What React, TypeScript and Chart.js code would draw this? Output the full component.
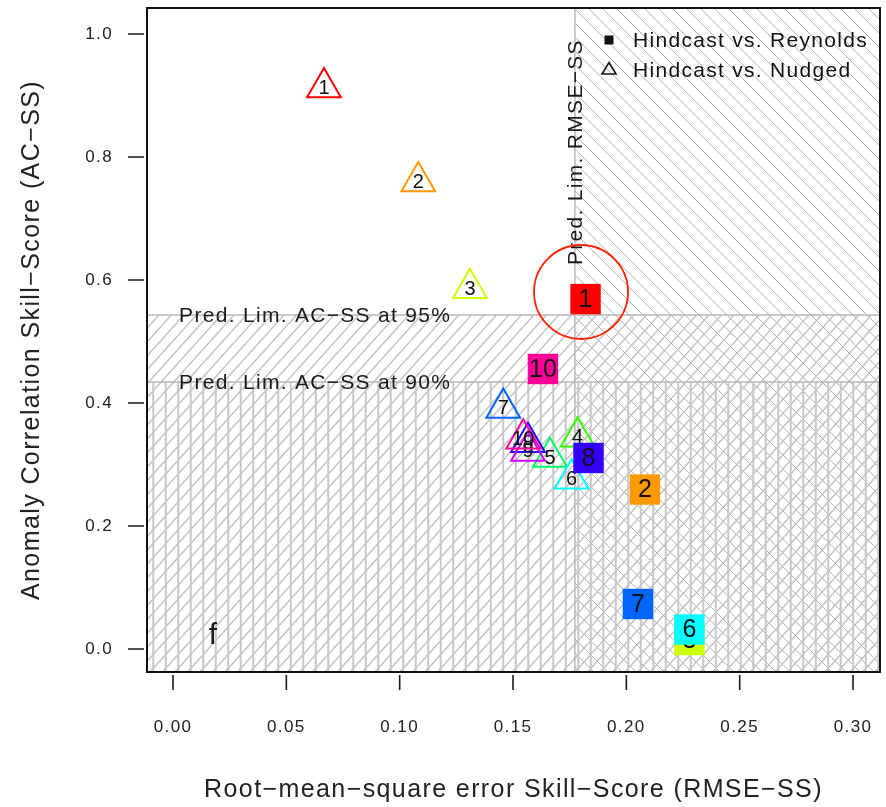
import React, { useEffect, useRef } from 'react';
import { Chart, registerables } from 'chart.js';

Chart.register(...registerables);

// R rainbow(10) palette, one colour per experiment number
const memberColors = ['#FF0000', '#FF9900', '#CCFF00', '#33FF00', '#00FF66', '#00FFFF', '#0066FF', '#3300FF', '#CC00FF', '#FF0099'];

// Hindcast vs. Reynolds (filled squares)
const reynoldsIds = [1, 2, 3, 6, 7, 8, 10];
const reynoldsRmseSS = [0.182, 0.2082, 0.2278, 0.2278, 0.2051, 0.1833, 0.1632];
const reynoldsAcSS = [0.569, 0.2593, 0.0146, 0.0317, 0.0732, 0.3106, 0.4553];

// Hindcast vs. Nudged (open triangles)
const nudgedIds = [1, 2, 3, 4, 5, 6, 7, 8, 9, 10];
const nudgedRmseSS = [0.0666, 0.1082, 0.131, 0.1785, 0.1663, 0.1758, 0.1457, 0.1566, 0.1566, 0.1545];
const nudgedAcSS = [0.913, 0.76, 0.5865, 0.345, 0.312, 0.277, 0.392, 0.336, 0.322, 0.342];

// Prediction limits
const predLimRmseSS = 0.1773;
const predLimAc95 = 0.543;
const predLimAc90 = 0.434;

// Axes
const xTickValues = [0, 0.05, 0.1, 0.15, 0.2, 0.25, 0.3];
const yTickValues = [0, 0.2, 0.4, 0.6, 0.8, 1.0];
const xRange = [-0.01147, 0.3119];
const yRange = [-0.0374, 1.0423];

const xTitle = 'Root\u2212mean\u2212square error Skill\u2212Score (RMSE\u2212SS)';
const yTitle = 'Anomaly Correlation Skill\u2212Score (AC\u2212SS)';
const seriesLabels = ['Hindcast vs. Reynolds', 'Hindcast vs. Nudged'];
const label95 = 'Pred. Lim. AC\u2212SS at 95%';
const label90 = 'Pred. Lim. AC\u2212SS at 90%';
const labelRmse = 'Pred. Lim. RMSE\u2212SS';
const panelLetter = 'f';
const highlight = { x: 0.18, y: 0.5805 };

const FONT = '"Liberation Sans", Arial, Helvetica, sans-serif';

function hatch(ctx: CanvasRenderingContext2D, x0: number, y0: number, x1: number, y1: number, dir: 'back' | 'fwd', step: number, angleDeg: number, color: string, width: number) {
  ctx.save();
  ctx.beginPath();
  ctx.rect(x0, y0, x1 - x0, y1 - y0);
  ctx.clip();
  ctx.strokeStyle = color;
  ctx.lineWidth = width;
  const h = y1 - y0;
  const dx = h / Math.tan((angleDeg * Math.PI) / 180);
  ctx.beginPath();
  const start = Math.floor((x0 - dx - step) / step) * step;
  for (let c = start; c <= x1 + dx + step; c += step) {
    if (dir === 'back') {
      ctx.moveTo(c, y0);
      ctx.lineTo(c + dx, y1);
    } else {
      ctx.moveTo(c, y1);
      ctx.lineTo(c + dx, y0);
    }
  }
  ctx.stroke();
  ctx.restore();
}

function verticalHatch(ctx: CanvasRenderingContext2D, x0: number, y0: number, x1: number, y1: number, step: number, color: string, width: number) {
  ctx.save();
  ctx.strokeStyle = color;
  ctx.lineWidth = width;
  ctx.beginPath();
  for (let x = x0 + step / 2; x < x1; x += step) {
    ctx.moveTo(x, y0);
    ctx.lineTo(x, y1);
  }
  ctx.stroke();
  ctx.restore();
}

const zeroPadding = (axis: any) => {
  axis.paddingTop = 0;
  axis.paddingBottom = 0;
  axis.paddingLeft = 0;
  axis.paddingRight = 0;
};

const backgroundPlugin = {
  id: 'hatchAndNotes',
  beforeDraw(chart: any) {
    chart.ctx.letterSpacing = '1.4px';
  },
  beforeDatasetsDraw(chart: any) {
    const { ctx, chartArea: a, scales } = chart;
    const xs = scales.x;
    const ys = scales.y;
    const xr = xs.getPixelForValue(predLimRmseSS);
    const y95 = ys.getPixelForValue(predLimAc95);
    const y90 = ys.getPixelForValue(predLimAc90);
    ctx.save();
    hatch(ctx, xr, a.top, a.right, a.bottom, 'back', 14, 45, '#b2b2b2', 1);
    hatch(ctx, a.left, y95, a.right, a.bottom, 'fwd', 12.5, 48, '#c4c4c4', 1.5);
    verticalHatch(ctx, a.left, y90, a.right, a.bottom, 12.5, '#c8c8c8', 2);
    ctx.strokeStyle = '#b8b8b8';
    ctx.lineWidth = 1.5;
    ctx.beginPath();
    ctx.moveTo(xr, a.top); ctx.lineTo(xr, a.bottom);
    ctx.moveTo(a.left, y95); ctx.lineTo(a.right, y95);
    ctx.moveTo(a.left, y90); ctx.lineTo(a.right, y90);
    ctx.stroke();

    // notes
    ctx.fillStyle = '#1a1a1a';
    ctx.font = `21px ${FONT}`;
    ctx.letterSpacing = '1.3px';
    ctx.textAlign = 'left';
    ctx.textBaseline = 'middle';
    const tx = xs.getPixelForValue(0.0027);
    ctx.fillText(label95, tx, y95 + 1);
    ctx.fillText(label90, tx, y90 + 1);
    ctx.save();
    ctx.translate(xr + 1, ys.getPixelForValue(0.6244));
    ctx.rotate(-Math.PI / 2);
    ctx.fillText(labelRmse, 0, 0);
    ctx.restore();
    ctx.font = `30px ${FONT}`;
    ctx.textAlign = 'center';
    ctx.textBaseline = 'alphabetic';
    ctx.letterSpacing = '0px';
    ctx.fillText(panelLetter, xs.getPixelForValue(0.0176), ys.getPixelForValue(0.008));
    ctx.restore();
  },
  beforeDatasetDraw(chart: any, args: any) {
    const { ctx, chartArea } = chart;
    const meta = args.meta;
    const isSquares = args.index === 0;
    const ids = isSquares ? reynoldsIds : nudgedIds;
    ctx.save();
    for (let i = 0; i < meta.data.length; i++) {
      const el = meta.data[i];
      el.draw(ctx, chartArea);
      ctx.save();
      ctx.letterSpacing = '0px';
      ctx.fillStyle = '#111';
      ctx.font = isSquares ? `25px ${FONT}` : `20px ${FONT}`;
      ctx.textAlign = 'center';
      ctx.textBaseline = 'middle';
      ctx.fillText(String(ids[i]), el.x, el.y + 1);
      ctx.restore();
    }
    ctx.restore();
    return false;
  },
  afterDatasetsDraw(chart: any) {
    const { ctx, chartArea: a, scales } = chart;
    ctx.save();
    // highlight circle
    ctx.strokeStyle = '#ff2200';
    ctx.lineWidth = 1.8;
    ctx.beginPath();
    ctx.arc(scales.x.getPixelForValue(highlight.x), scales.y.getPixelForValue(highlight.y), 47, 0, Math.PI * 2);
    ctx.stroke();

    // legend
    const mx = a.right - 271;
    const ly1 = a.top + 32;
    const ly2 = a.top + 61;
    ctx.fillStyle = '#111';
    ctx.fillRect(mx - 4.5, ly1 - 4.5, 9, 9);
    ctx.strokeStyle = '#111';
    ctx.lineWidth = 1.6;
    ctx.beginPath();
    ctx.moveTo(mx, ly2 - 6.5);
    ctx.lineTo(mx + 7, ly2 + 5);
    ctx.lineTo(mx - 7, ly2 + 5);
    ctx.closePath();
    ctx.stroke();
    ctx.font = `21px ${FONT}`;
    ctx.letterSpacing = '1.3px';
    ctx.textAlign = 'left';
    ctx.textBaseline = 'middle';
    const ds = chart.data.datasets;
    ctx.fillText(ds[0].label, a.right - 247, ly1 + 1);
    ctx.fillText(ds[1].label, a.right - 247, ly2 + 2);

    // frame
    ctx.strokeStyle = '#111';
    ctx.lineWidth = 2;
    ctx.strokeRect(a.left, a.top, a.right - a.left, a.bottom - a.top);
    ctx.restore();
  },
  afterDraw(chart: any) {
    const { ctx, chartArea: a, scales } = chart;
    ctx.save();
    ctx.strokeStyle = '#1a1a1a';
    ctx.lineWidth = 1.6;
    ctx.beginPath();
    scales.x.ticks.forEach((t: any) => {
      const p = scales.x.getPixelForValue(t.value);
      ctx.moveTo(p, a.bottom + 3);
      ctx.lineTo(p, a.bottom + 18);
    });
    scales.y.ticks.forEach((t: any) => {
      const p = scales.y.getPixelForValue(t.value);
      ctx.moveTo(a.left - 3, p);
      ctx.lineTo(a.left - 19, p);
    });
    ctx.stroke();
    ctx.restore();
  },
};

export default function App() {
  const ref = useRef<HTMLCanvasElement>(null);
  useEffect(() => {
    document.body.style.margin = '0';
    const canvas = ref.current;
    if (!canvas) return;
    Chart.defaults.font.family = FONT;
    const chart = new Chart(canvas, {
      type: 'scatter',
      data: {
        datasets: [
          {
            label: seriesLabels[0],
            data: reynoldsRmseSS.map((x, i) => ({ x, y: reynoldsAcSS[i] })),
            pointStyle: 'rect',
            pointRadius: 21.5,
            backgroundColor: reynoldsIds.map((id) => memberColors[id - 1]),
            borderWidth: 0,
          },
          {
            label: seriesLabels[1],
            data: nudgedRmseSS.map((x, i) => ({ x, y: nudgedAcSS[i] })),
            pointStyle: 'triangle',
            pointRadius: 19.5,
            backgroundColor: 'rgba(0,0,0,0)',
            borderColor: nudgedIds.map((id) => memberColors[id - 1]),
            borderWidth: 2,
          },
        ],
      },
      options: {
        animation: false,
        responsive: false,
        devicePixelRatio: 1,
        layout: { autoPadding: false, padding: { top: 8, right: 6, left: 0, bottom: 0 } },
        plugins: { legend: { display: false }, tooltip: { enabled: false } },
        scales: {
          x: {
            type: 'linear',
            min: xRange[0],
            max: xRange[1],
            afterBuildTicks: (axis: any) => {
              axis.ticks = xTickValues.map((v) => ({ value: v }));
            },
            afterFit: (axis: any) => {
              axis.height = 135;
              zeroPadding(axis);
            },
            grid: { drawOnChartArea: false, drawTicks: true, tickLength: 18, tickColor: 'rgba(0,0,0,0)' },
            border: { display: false },
            ticks: {
              color: '#222',
              font: { size: 17 },
              padding: 27,
              maxRotation: 0,
              autoSkip: false,
              callback: (v: any) => Number(v).toFixed(2),
            },
            title: { display: true, text: xTitle, color: '#222', font: { size: 25 }, padding: { top: 0, bottom: 2 } },
          },
          y: {
            type: 'linear',
            min: yRange[0],
            max: yRange[1],
            afterBuildTicks: (axis: any) => {
              axis.ticks = yTickValues.map((v) => ({ value: v }));
            },
            afterFit: (axis: any) => {
              axis.width = 147;
              zeroPadding(axis);
            },
            grid: { drawOnChartArea: false, drawTicks: true, tickLength: 19, tickColor: 'rgba(0,0,0,0)' },
            border: { display: false },
            ticks: {
              color: '#222',
              font: { size: 17 },
              padding: 15,
              autoSkip: false,
              callback: (v: any) => Number(v).toFixed(1),
            },
            title: { display: true, text: yTitle, color: '#222', font: { size: 25 }, padding: { top: 17.5, bottom: 0 } },
          },
        },
      },
      plugins: [backgroundPlugin],
    } as any);
    return () => chart.destroy();
  }, []);
  return (
    <div style={{ width: 886, height: 807, position: 'relative' }}>
      <canvas ref={ref} width={886} height={807} style={{ display: 'block', width: '886px', height: '807px' }} />
    </div>
  );
}
